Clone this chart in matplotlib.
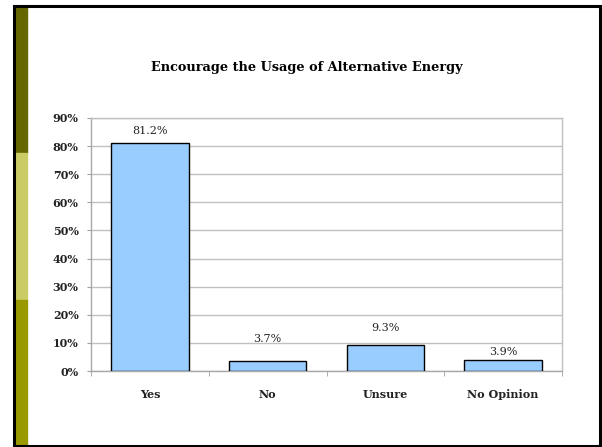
import matplotlib
matplotlib.use("Agg")
import matplotlib.pyplot as plt
from matplotlib.patches import Rectangle
from matplotlib.ticker import PercentFormatter, FixedLocator, NullFormatter

categories = ["Yes", "No", "Unsure", "No Opinion"]
values = [81.2, 3.7, 9.3, 3.9]
labels = ["81.2%", "3.7%", "9.3%", "3.9%"]
title = "Encourage the Usage of Alternative Energy"

# style: label offsets above each bar (points), as placed in the original
label_offsets = [6.5, 13.7, 10.0, 3.6]

W, H = 602, 447
fig = plt.figure(figsize=(W / 100, H / 100), dpi=100)
fig.patch.set_facecolor("white")

def px(x0, y0, x1, y1):
    return (x0 / W, 1 - y1 / H), (x1 - x0) / W, (y1 - y0) / H

# left decorative strip
for (y0, y1, c) in [(6, 153, "#666600"), (153, 300, "#CCCC66"), (300, 446, "#999900")]:
    xy, w, h = px(14, y0, 27, y1)
    fig.patches.append(Rectangle(xy, w, h, transform=fig.transFigure, color=c, zorder=0))
# outer black frame
xy, w, h = px(13.5, 6, 600, 446)
fig.patches.append(Rectangle(xy, w, h, transform=fig.transFigure, fill=False,
                             edgecolor="black", linewidth=2.2, zorder=5))

ax = fig.add_axes([91 / W, 1 - 371 / H, (562 - 91) / W, (371 - 118) / H])
x = list(range(len(categories)))
bars = ax.bar(x, values, width=0.66, color="#99CCFF", edgecolor="black", linewidth=1.0, zorder=3)

ax.set_xlim(-0.5, len(categories) - 0.5)
ax.set_ylim(0, 90)
ax.set_yticks(range(0, 91, 10))
ax.yaxis.set_major_formatter(PercentFormatter(decimals=0))
ax.grid(axis="y", color="#C0C0C0", linewidth=1.0, zorder=0)
ax.set_axisbelow(True)

ax.set_xticks(x)
ax.set_xticklabels(categories)
ax.xaxis.set_minor_locator(FixedLocator([i - 0.5 for i in range(len(categories) + 1)]))
ax.xaxis.set_minor_formatter(NullFormatter())
ax.tick_params(axis="x", which="major", length=0, pad=13)
ax.tick_params(axis="x", which="minor", length=3.5, color="#A0A0A0")
ax.tick_params(axis="y", length=3, color="#A0A0A0", pad=6)

for s in ["left", "bottom", "top", "right"]:
    ax.spines[s].set_color("#C0C0C0")
    ax.spines[s].set_linewidth(1.0)
ax.spines["left"].set_color("#A8A8A8")
ax.spines["bottom"].set_color("#A8A8A8")

for lab in ax.get_xticklabels() + ax.get_yticklabels():
    lab.set_fontfamily("DejaVu Serif")
    lab.set_fontsize(8)
    lab.set_fontweight("bold")
    lab.set_color("#222222")

for b, t, off in zip(bars, labels, label_offsets):
    ax.annotate(t, (b.get_x() + b.get_width() / 2, b.get_height()),
                xytext=(0, off), textcoords="offset points", ha="center", va="baseline",
                fontfamily="DejaVu Serif", fontsize=8, color="#222222")

fig.text(307 / W, 1 - 71 / H, title, ha="center", va="baseline",
         fontfamily="DejaVu Serif", fontweight="bold", fontsize=9.3, color="black")

fig.savefig("out.png", dpi=100)
